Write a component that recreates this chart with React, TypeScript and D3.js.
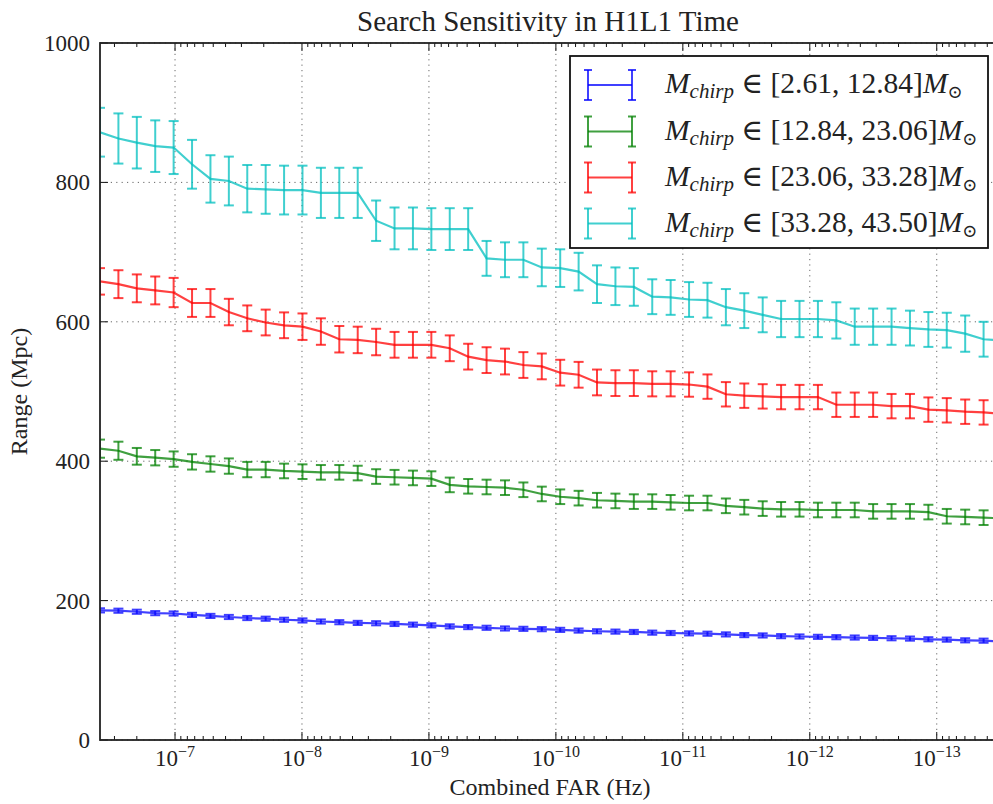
import React from 'react';
import * as d3 from 'd3';

// log10 of combined FAR (Hz) at each sampled threshold
const farExponents = [
  -6.409, -6.554, -6.699, -6.844, -6.989, -7.134, -7.279, -7.424, -7.569, -7.714,
  -7.859, -8.004, -8.149, -8.294, -8.439, -8.584, -8.729, -8.874, -9.019, -9.164,
  -9.309, -9.454, -9.599, -9.744, -9.889, -10.034, -10.179, -10.324, -10.469, -10.614,
  -10.759, -10.904, -11.049, -11.194, -11.339, -11.484, -11.629, -11.774, -11.919, -12.064,
  -12.209, -12.354, -12.499, -12.644, -12.789, -12.934, -13.079, -13.224, -13.369, -13.514,
];

const binLabels = ['[2.61, 12.84]', '[12.84, 23.06]', '[23.06, 33.28]', '[33.28, 43.50]'];

const rangeBin1 = [
  186, 185.5, 184, 182, 181.5, 179.5, 178, 176.5, 175, 174,
  172.5, 171.5, 170, 169, 168, 167.5, 166.5, 165.5, 164.5, 163,
  162, 161, 160, 159.5, 159, 158, 157, 156, 155.5, 155,
  154, 153.5, 153, 152.5, 151.5, 150.5, 150, 149, 148.5, 148,
  147.5, 147, 146.5, 146, 145.5, 144.5, 144, 143, 142.5, 141.5,
];
const errBin1 = [
  3, 3, 3, 3, 3, 3, 3, 3, 3, 3, 3, 3, 3, 3, 3, 3, 3, 3, 3, 3, 3, 3, 3, 3, 3,
  3, 3, 3, 3, 3, 3, 3, 3, 3, 3, 3, 3, 3, 3, 3, 3, 3, 3, 3, 3, 3, 3, 3, 3, 3,
];

const rangeBin2 = [
  418, 415, 407, 405, 403, 399, 396, 393, 388, 388,
  386, 385, 384, 384, 383, 378, 377, 376, 375, 366,
  364, 363, 362, 359, 353, 349, 347, 344, 343, 342,
  342, 341, 340, 340, 336, 334, 332, 331, 331, 330,
  330, 330, 328, 328, 328, 327, 321, 320, 319, 318,
];
const errBin2 = [
  13, 13, 12, 11, 11, 11, 11, 11, 11, 11, 10.5, 10.5, 10.5, 10.5, 10.5, 10.5, 10.5, 10.5, 10.5, 10.5,
  10.5, 10.5, 10.5, 10.5, 10.5, 10.5, 10.5, 10.5, 10.5, 10.5, 10.5, 10.5, 10.5, 10.5, 10.5, 10.5, 10.5, 10.5, 10.5, 10.5,
  10.5, 10.5, 10.5, 10.5, 10.5, 10.5, 10.5, 10.5, 10.5, 10.5,
];

const rangeBin3 = [
  658, 654, 648, 645, 642, 627, 627, 614, 605, 599,
  595, 593, 586, 575, 574, 571, 567, 567, 567, 562,
  550, 545, 543, 538, 536, 527, 524, 513, 512, 512,
  511, 511, 510, 507, 496, 494, 493, 492, 492, 492,
  481, 481, 481, 479, 479, 474, 473, 471, 470, 468,
];
const errBin3 = [
  19, 20, 20, 20, 21, 20, 20, 19, 18.5, 18.5, 18.5, 19, 19, 19, 19, 19, 18.5, 18.5, 18.5, 18.5,
  18.5, 18.5, 18.5, 18.5, 18.5, 18.5, 18.5, 18.5, 18.5, 18.5, 18, 18, 17.5, 17.5, 17.5, 17.5, 17.5, 17.5, 17.5, 17.5,
  17.5, 17.5, 17.5, 17.5, 17.5, 17.5, 17.5, 17.5, 17.5, 17.5,
];

const rangeBin4 = [
  872, 863, 857, 852, 850, 826, 805, 802, 791, 790,
  789, 789, 785, 785, 785, 745, 734, 734, 733, 733,
  733, 691, 689, 689, 678, 677, 672, 654, 651, 650,
  636, 635, 632, 631, 621, 616, 610, 604, 604, 604,
  602, 593, 593, 593, 591, 589, 588, 583, 575, 573,
];
const errBin4 = [
  35, 36, 37, 37, 38, 35, 34, 35, 34, 35, 35, 35, 36, 36, 36, 29, 30, 30, 30, 30,
  30, 25, 25, 25, 27, 27, 27, 27, 27, 27, 25, 25, 25, 25, 26, 25, 25, 26, 26, 26,
  26, 26, 26, 26, 25, 25, 25, 26, 25, 25,
];

const seriesColors = ['#0000ff', '#008000', '#ff0000', '#00bfbf'];
const yTickValues = [0, 200, 400, 600, 800, 1000];
const xMajorExponents = [-7, -8, -9, -10, -11, -12, -13];

const W = 993;
const H = 804;
const L = 100;
const R = 1002;
const T = 43;
const B = 740;
const FONT = '"Liberation Serif", "DejaVu Serif", serif';

export default function App() {
  const x = d3.scaleLog().domain([Math.pow(10, farExponents[0]), Math.pow(10, farExponents[farExponents.length - 1])]).range([L, R]);
  const y = d3.scaleLinear().domain([0, 1000]).range([B, T]);

  const series = [
    { vals: rangeBin1, errs: errBin1 },
    { vals: rangeBin2, errs: errBin2 },
    { vals: rangeBin3, errs: errBin3 },
    { vals: rangeBin4, errs: errBin4 },
  ];

  const line = d3
    .line<number>()
    .x((_, i) => x(Math.pow(10, farExponents[i])))
    .y((d) => y(d));

  const allTicks = x.ticks();
  const minorTicks = allTicks.filter((t) => {
    const m = t / Math.pow(10, Math.floor(Math.log10(t) + 1e-9));
    return Math.abs(m - 1) > 1e-6;
  });

  const capW = 5;
  const legendRows = [85, 131.5, 177.5, 223.5];

  return (
    <svg width={W} height={H} style={{ position: 'absolute', left: 0, top: 0, background: '#fff' }} fontFamily={FONT}>
      <defs>
        <clipPath id="plotClip">
          <rect x={L} y={T} width={R - L} height={B - T} />
        </clipPath>
      </defs>
      <rect x={0} y={0} width={W} height={H} fill="#fff" />

      {/* grid */}
      <g stroke="#444" strokeWidth={1} strokeDasharray="1.2,4.2" opacity={0.8}>
        {xMajorExponents.map((e) => (
          <line key={'gx' + e} x1={x(Math.pow(10, e))} x2={x(Math.pow(10, e))} y1={T} y2={B} />
        ))}
        {yTickValues.map((v) => (
          <line key={'gy' + v} x1={L} x2={R} y1={y(v)} y2={y(v)} />
        ))}
      </g>

      {/* data */}
      <g clipPath="url(#plotClip)">
        {series.map((s, si) => (
          <g key={'s' + si} stroke={seriesColors[si]} strokeOpacity={0.75} fill="none" strokeWidth={2}>
            {s.vals.map((v, i) => {
              const px = x(Math.pow(10, farExponents[i]));
              const y1 = y(v - s.errs[i]);
              const y2 = y(v + s.errs[i]);
              return (
                <g key={i}>
                  <line x1={px} x2={px} y1={y1} y2={y2} />
                  <line x1={px - capW} x2={px + capW} y1={y1} y2={y1} />
                  <line x1={px - capW} x2={px + capW} y1={y2} y2={y2} />
                </g>
              );
            })}
            <path d={line(s.vals) || ''} strokeWidth={2.2} />
          </g>
        ))}
      </g>

      {/* ticks */}
      <g stroke="#111" strokeWidth={1}>
        {xMajorExponents.map((e) => {
          const px = x(Math.pow(10, e));
          return (
            <g key={'tx' + e}>
              <line x1={px} x2={px} y1={B} y2={B - 8} />
              <line x1={px} x2={px} y1={T} y2={T + 8} />
            </g>
          );
        })}
        {minorTicks.map((t, i) => {
          const px = x(t);
          return (
            <g key={'mx' + i}>
              <line x1={px} x2={px} y1={B} y2={B - 4} />
              <line x1={px} x2={px} y1={T} y2={T + 4} />
            </g>
          );
        })}
        {yTickValues.map((v) => (
          <g key={'ty' + v}>
            <line x1={L} x2={L + 8} y1={y(v)} y2={y(v)} />
            <line x1={R} x2={R - 8} y1={y(v)} y2={y(v)} />
          </g>
        ))}
      </g>

      {/* spines */}
      <rect x={L} y={T} width={R - L} height={B - T} fill="none" stroke="#222" strokeWidth={1.8} />

      {/* tick labels */}
      <g fill="#222" fontSize={23}>
        {yTickValues.map((v) => (
          <text key={'ly' + v} x={L - 10} y={y(v) + 8} textAnchor="end">
            {v}
          </text>
        ))}
        {xMajorExponents.map((e) => (
          <text key={'lx' + e} x={x(Math.pow(10, e))} y={766} textAnchor="middle">
            10
            <tspan dy={-9} fontSize={16}>
              {'\u2212' + Math.abs(e)}
            </tspan>
          </text>
        ))}
      </g>

      {/* axis labels & title */}
      <text x={550} y={795} textAnchor="middle" fontSize={24} fill="#222">
        Combined FAR (Hz)
      </text>
      <text transform={`translate(27, ${(T + B) / 2}) rotate(-90)`} textAnchor="middle" fontSize={24} fill="#222">
        Range (Mpc)
      </text>
      <text x={548} y={31} textAnchor="middle" fontSize={29} fill="#222">
        Search Sensitivity in H1L1 Time
      </text>

      {/* legend */}
      <g>
        <rect x={570} y={56} width={418} height={192} fill="#fff" stroke="#111" strokeWidth={1.8} />
        {binLabels.map((lab, i) => {
          const cy = legendRows[i];
          const xa = 588;
          const xb = 632;
          return (
            <g key={'lg' + i}>
              <g stroke={seriesColors[i]} strokeOpacity={0.75} strokeWidth={2}>
                <line x1={xa} x2={xb} y1={cy} y2={cy} />
                {[xa, xb].map((xx) => (
                  <g key={xx}>
                    <line x1={xx} x2={xx} y1={cy - 15} y2={cy + 15} />
                    <line x1={xx - 4} x2={xx + 4} y1={cy - 15} y2={cy - 15} />
                    <line x1={xx - 4} x2={xx + 4} y1={cy + 15} y2={cy + 15} />
                  </g>
                ))}
              </g>
              <text x={665} y={cy + 8} fontSize={29.5} fill="#222">
                <tspan fontStyle="italic">M</tspan>
                <tspan fontStyle="italic" fontSize={21} dy={5}>chirp</tspan>
                <tspan dy={-5}>{' \u2208 ' + lab}</tspan>
                <tspan fontStyle="italic">M</tspan>
                <tspan fontSize={18} dy={5}>{'\u2299'}</tspan>
              </text>
            </g>
          );
        })}
      </g>
    </svg>
  );
}
